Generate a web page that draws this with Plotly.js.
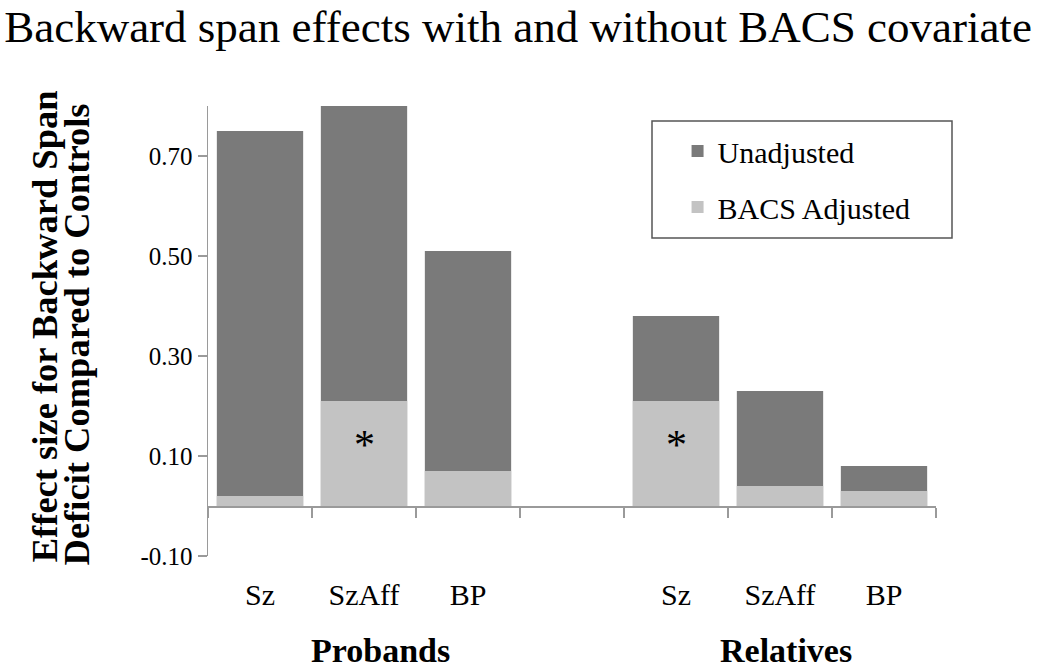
<!DOCTYPE html>
<html>
<head>
<meta charset="utf-8">
<script src="https://cdn.plot.ly/plotly-3.0.1.min.js"></script>
<style>html,body{margin:0;padding:0;background:#fff;}#chart{width:1050px;height:671px;}</style>
</head>
<body>
<div id="chart"></div>
<script>
// ---- data ----
const categories = ['Sz', 'SzAff', 'BP', '', 'Sz', 'SzAff', 'BP'];          // slot tick labels ('' = spacer slot)
const slotGroups = ['Probands', 'Probands', 'Probands', '', 'Relatives', 'Relatives', 'Relatives'];
const groups = ['Probands', 'Relatives'];
const unadjusted   = [0.75, 0.80, 0.51, null, 0.38, 0.23, 0.08];
const bacsAdjusted = [0.02, 0.21, 0.07, null, 0.21, 0.04, 0.03];
const significant  = [false, true, false, false, true, false, false];
const yTickValues  = [-0.10, 0.10, 0.30, 0.50, 0.70];

// ---- styling ----
const SERIF = 'Liberation Serif, Times New Roman, serif';
const DARK = '#7a7a7a';
const LIGHT = '#c3c3c3';
const AXIS = '#9a9a9a';

const slots = categories.map((_, i) => i);
const boundaries = slots.concat([slots.length]).map(i => i - 0.5);
const xRange = [-0.5, slots.length - 0.5];
const yRange = [-0.10, 0.80];

const traces = [
  {
    type: 'bar', name: 'Unadjusted', x: slots, y: unadjusted,
    marker: {color: DARK, line: {width: 0}}, width: 0.83,
    legendgroup: 'u', hoverinfo: 'y'
  },
  {
    type: 'bar', name: 'BACS Adjusted', x: slots, y: bacsAdjusted,
    marker: {color: LIGHT, line: {width: 0}}, width: 0.83,
    legendgroup: 'a', hoverinfo: 'y'
  }
];

const annotations = [];
slots.forEach(i => {
  if (significant[i]) {
    annotations.push({
      x: i, y: bacsAdjusted[i], xref: 'x', yref: 'y', yanchor: 'top', yshift: -19,
      text: '*', showarrow: false, font: {family: SERIF, size: 42, color: '#000'}
    });
  }
});
groups.forEach(g => {
  const idx = slots.filter(i => slotGroups[i] === g);
  const cx = idx.reduce((a, b) => a + b, 0) / idx.length;
  annotations.push({
    x: cx, y: -0.255, xref: 'x', yref: 'paper', yanchor: 'bottom', xanchor: 'center',
    xshift: g === 'Probands' ? 16 : 6,
    text: '<b>' + g + '</b>', showarrow: false, font: {family: SERIF, size: 34, color: '#000'}
  });
});
// y-axis title lines
annotations.push({
  x: -0.225, y: 0.511, xref: 'paper', yref: 'paper', textangle: -90, xanchor: 'center', yanchor: 'middle',
  text: '<b>Effect size for Backward Span</b>', showarrow: false, font: {family: SERIF, size: 36.5, color: '#000'}
});
annotations.push({
  x: -0.181, y: 0.493, xref: 'paper', yref: 'paper', textangle: -90, xanchor: 'center', yanchor: 'middle',
  text: '<b>Deficit Compared to Controls</b>', showarrow: false, font: {family: SERIF, size: 36.5, color: '#000'}
});

const layout = {
  width: 1050, height: 671,
  margin: {l: 208, r: 114, t: 106, b: 115, pad: 0},
  paper_bgcolor: '#fff', plot_bgcolor: '#fff',
  barmode: 'overlay',
  font: {family: SERIF, color: '#000'},
  title: {
    text: 'Backward span effects with and without BACS covariate',
    x: 0.004, xanchor: 'left', xref: 'container',
    y: 0.985, yanchor: 'top', yref: 'container',
    font: {family: SERIF, size: 45, color: '#000'}
  },
  xaxis: {
    range: xRange, anchor: 'free', position: (0 - yRange[0]) / (yRange[1] - yRange[0]),
    showline: true, linecolor: AXIS, linewidth: 1.5,
    tickmode: 'array', tickvals: boundaries, ticks: 'outside', ticklen: 10, tickcolor: AXIS, tickwidth: 1.5,
    showticklabels: false, showgrid: false, zeroline: false, fixedrange: true
  },
  xaxis2: {
    range: xRange, overlaying: 'x', anchor: 'y', side: 'bottom',
    showline: false, tickmode: 'array', tickvals: slots, ticktext: categories,
    ticks: 'outside', ticklen: 12, tickcolor: 'rgba(0,0,0,0)',
    tickfont: {family: SERIF, size: 30, color: '#000'},
    showgrid: false, zeroline: false
  },
  yaxis: {
    range: yRange, showline: true, linecolor: AXIS, linewidth: 1.5,
    tickmode: 'array', tickvals: yTickValues, ticktext: yTickValues.map(v => v.toFixed(2)),
    ticks: 'outside', ticklen: 9, tickcolor: AXIS, tickwidth: 1.5,
    tickfont: {family: SERIF, size: 25, color: '#000'},
    showgrid: false, zeroline: false
  },
  legend: {
    x: 0.645, y: 0.958, xanchor: 'left', yanchor: 'top', xref: 'paper', yref: 'paper',
    bgcolor: 'rgba(0,0,0,0)', borderwidth: 0, tracegroupgap: 14, traceorder: 'grouped',
    font: {family: SERIF, size: 30, color: '#000'}
  },
  shapes: [{
    type: 'rect', xref: 'paper', yref: 'paper',
    x0: (652 - 208) / 728, x1: (952 - 208) / 728, y0: (556 - 238) / 450, y1: (556 - 121) / 450,
    line: {color: '#555', width: 1.5}, fillcolor: 'rgba(0,0,0,0)', layer: 'above'
  }],
  annotations: annotations,
  showlegend: true
};

// empty trace on xaxis2 so that the label axis is drawn
traces.push({type: 'scatter', x: [], y: [], xaxis: 'x2', yaxis: 'y', showlegend: false, hoverinfo: 'skip'});

Plotly.newPlot('chart', traces, layout, {displayModeBar: false, staticPlot: true});
</script>
</body>
</html>
